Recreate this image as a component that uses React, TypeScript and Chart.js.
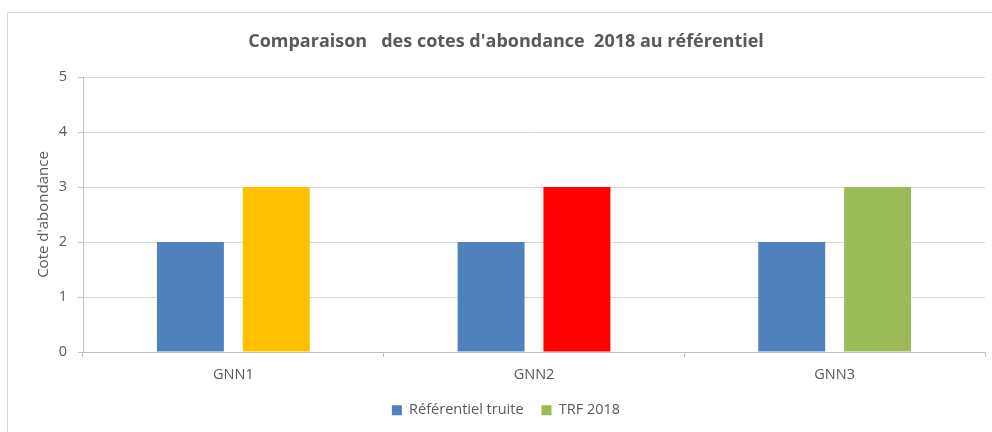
import React, { useEffect, useRef } from "react";
import { Chart, registerables } from "chart.js";

Chart.register(...registerables);

const categories = ["GNN1", "GNN2", "GNN3"];
const seriesNames = ["Référentiel truite", "TRF 2018"];
const referentielValues = [2, 2, 2];
const trfValues = [3, 3, 3];
const referentielColor = "#4F81BD";
const trfBarColors = ["#FFC000", "#FF0000", "#9BBB59"];
const trfLegendColor = "#9BBB59";
const yMin = 0;
const yMax = 5;
const yStep = 1;
const titleText = "Comparaison   des cotes d'abondance  2018 au référentiel";
const yAxisTitle = "Cote d'abondance";

const FONT = "'Open Sans', 'Noto Sans', sans-serif";
const TEXT = "#595959";

export default function App() {
  const ref = useRef<HTMLCanvasElement | null>(null);

  useEffect(() => {
    if (!ref.current) return;
    const chart = new Chart(ref.current, {
      type: "bar",
      data: {
        labels: categories,
        datasets: [
          {
            label: seriesNames[0],
            data: referentielValues,
            backgroundColor: referentielColor,
            borderWidth: 0,
          },
          {
            label: seriesNames[1],
            data: trfValues,
            backgroundColor: trfBarColors,
            borderWidth: 0,
          },
        ],
      },
      options: {
        responsive: false,
        animation: false,
        maintainAspectRatio: false,
        datasets: {
          bar: { categoryPercentage: 0.571, barPercentage: 0.78 },
        },
        layout: { padding: { left: 27, right: 7, top: 0, bottom: 4.5 } },
        plugins: {
          tooltip: { enabled: false },
          title: {
            display: true,
            text: titleText,
            color: TEXT,
            font: { family: FONT, size: 18, weight: "bold" },
            padding: { top: 31.2, bottom: 24.2 },
          },
          legend: {
            display: true,
            position: "bottom",
            labels: {
              color: TEXT,
              font: { family: FONT, size: 14.5 },
              boxWidth: 10,
              boxHeight: 10,
              padding: 18,
              generateLabels: (c: any) => {
                const items = Chart.defaults.plugins.legend.labels.generateLabels(c);
                items.forEach((it: any, i: number) => {
                  const col = i === 0 ? referentielColor : trfLegendColor;
                  it.fillStyle = col;
                  it.strokeStyle = col;
                  it.lineWidth = 0;
                });
                return items;
              },
            },
          },
        },
        scales: {
          x: {
            grid: {
              display: true,
              drawOnChartArea: false,
              drawTicks: true,
              tickLength: 5,
              offset: true,
              tickColor: "#BFBFBF",
            },
            border: { display: true, color: "#BFBFBF" },
            ticks: {
              color: TEXT,
              font: { family: FONT, size: 14.5 },
              padding: 9.3,
            },
            afterFit: (scale: any) => {
              scale.height = 33;
            },
          },
          y: {
            min: yMin,
            max: yMax,
            ticks: {
              stepSize: yStep,
              color: TEXT,
              font: { family: FONT, size: 14.5 },
              padding: 11,
            },
            grid: {
              color: "#D9D9D9",
              tickColor: "#BFBFBF",
              tickLength: 5,
            },
            border: { display: true, color: "#BFBFBF" },
            title: {
              display: true,
              text: yAxisTitle,
              color: TEXT,
              font: { family: FONT, size: 15 },
              padding: { top: 8, bottom: 0 },
            },
            afterFit: (scale: any) => {
              scale.width = 56;
            },
          },
        },
      },
    });
    return () => chart.destroy();
  }, []);

  return (
    <div
      style={{
        position: "fixed",
        left: 0,
        top: 0,
        width: 992,
        height: 432,
        overflow: "hidden",
        background: "#fff",
      }}
    >
      <div
        style={{
          position: "absolute",
          left: 7,
          top: 12,
          width: 1000,
          height: 440,
          border: "1px solid #D9D9D9",
          boxSizing: "border-box",
        }}
      />
      <canvas
        ref={ref}
        width={992}
        height={432}
        style={{ position: "absolute", left: 0, top: 0, width: 992, height: 432 }}
      />
    </div>
  );
}
